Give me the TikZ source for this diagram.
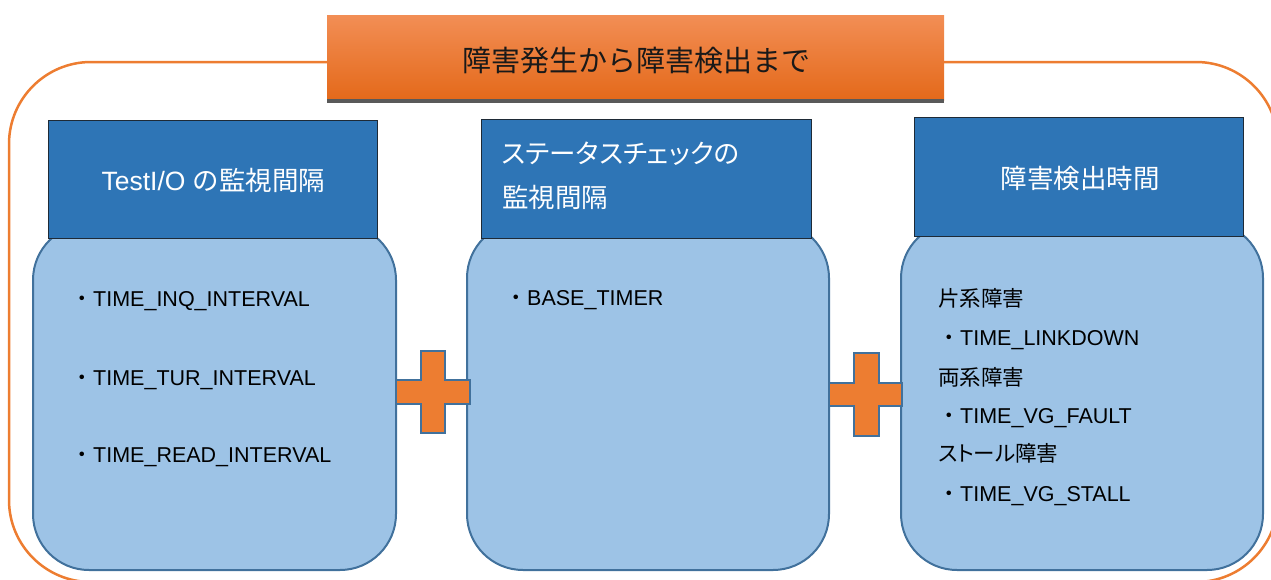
\documentclass[tikz,border=0pt]{standalone}
\usepackage{fontspec}
\setmainfont{Liberation Sans}
\newfontfamily\jp{Noto Sans CJK JP}
\newfontfamily\jpp[RawFeature=+palt]{Noto Sans CJK JP}
\newcommand{\bulx}{{\jp ・}}
\definecolor{outerorange}{HTML}{ED7D31}
\definecolor{plusorange}{HTML}{ED7D31}
\definecolor{titletop}{HTML}{F28E55}
\definecolor{titlebot}{HTML}{E4691A}
\definecolor{titleedge}{HTML}{595959}
\definecolor{headblue}{HTML}{2E75B6}
\definecolor{headedge}{HTML}{1E2A36}
\definecolor{bodyblue}{HTML}{9DC3E6}
\definecolor{bodyedge}{HTML}{41719C}
\tikzset{
  bodybox/.style={draw=bodyedge, line width=2pt, fill=bodyblue, rounded corners=56pt},
  headbox/.style={draw=headedge, line width=1pt, fill=headblue},
  plusshape/.style={draw=bodyedge, line width=2pt, fill=plusorange, line join=miter},
  headtxt/.style={text=white, inner sep=0pt, font=\jp\fontsize{26.5}{30}\selectfont},
  itemtxt/.style={text=black, inner sep=0pt, anchor=base west, font=\fontsize{21.5}{24}\selectfont},
}
\begin{document}
\begin{tikzpicture}[x=1pt,y=-1pt]
\useasboundingbox (0,0) rectangle (1271,579);
% outer frame
\draw[outerorange, line width=2.5pt, rounded corners=82pt] (9,62) rectangle (1278,582);
% title
\shade[top color=titletop, bottom color=titlebot] (327,15) rectangle (944,100);
\fill[titleedge] (327,99) rectangle (944,103);
\node[inner sep=0pt, anchor=base, text=black!90, font=\jp\fontsize{29}{32}\selectfont] (title) at (636,71) {障害発生から障害検出まで};
% bodies
\draw[bodybox] (33,224) rectangle (396,570);
\draw[bodybox] (467,222) rectangle (829,570);
\draw[bodybox] (901,222) rectangle (1263,570);
% headers
\draw[headbox] (48,120) rectangle (377,238);
\draw[headbox] (481,119) rectangle (811,238);
\draw[headbox] (914,117) rectangle (1243,236);
\node[headtxt, anchor=base] (h1) at (213.5,190) {{\fontspec{Liberation Sans}TestI/O }の監視間隔};
\node[headtxt, anchor=base west, font=\jpp\fontsize{26.5}{30}\selectfont] (h2a) at (502,163) {ステータスチェックの};
\node[headtxt, anchor=base west] (h2b) at (502,207) {監視間隔};
\node[headtxt, anchor=base] (h3) at (1080,188) {障害検出時間};
% left body items
\node[itemtxt] (l1) at (71.5,306) {\bulx TIME\_INQ\_INTERVAL};
\node[itemtxt] (l2) at (71.5,385) {\bulx TIME\_TUR\_INTERVAL};
\node[itemtxt] (l3) at (71.5,462) {\bulx TIME\_READ\_INTERVAL};
% middle body item
\node[itemtxt] (m1) at (505.5,305) {\bulx BASE\_TIMER};
% right body items
\node[itemtxt, font=\jp\fontsize{21.5}{24}\selectfont] (r1) at (938,306) {片系障害};
\node[itemtxt] (r2) at (938.5,345) {\bulx TIME\_LINKDOWN};
\node[itemtxt, font=\jp\fontsize{21.5}{24}\selectfont] (r3) at (938,385) {両系障害};
\node[itemtxt] (r4) at (938.5,423) {\bulx TIME\_VG\_FAULT};
\node[itemtxt, font=\jpp\fontsize{21.5}{24}\selectfont] (r5) at (938,461) {ストール障害};
\node[itemtxt] (r6) at (938.5,501) {\bulx TIME\_VG\_STALL};
% plus signs
\draw[plusshape] (421,351) -- (445,351) -- (445,380) -- (470,380) -- (470,404) -- (445,404) -- (445,433) -- (421,433) -- (421,404) -- (396,404) -- (396,380) -- (421,380) -- cycle;
\draw[plusshape] (854,353) -- (879,353) -- (879,383) -- (902,383) -- (902,406) -- (879,406) -- (879,436) -- (854,436) -- (854,406) -- (829,406) -- (829,383) -- (854,383) -- cycle;
\end{tikzpicture}
\end{document}
